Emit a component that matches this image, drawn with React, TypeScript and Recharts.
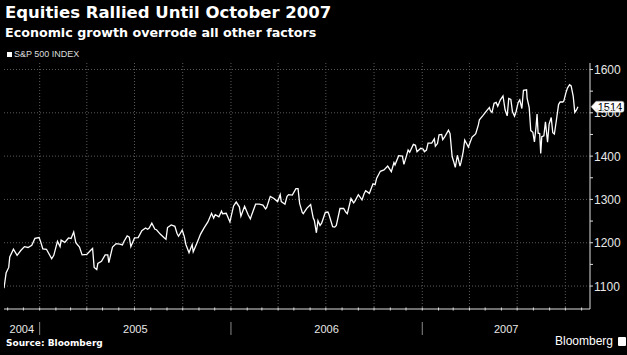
import React from 'react';
import { LineChart, Line, XAxis, YAxis, CartesianGrid, ReferenceLine } from 'recharts';

// S&P 500 closes: weekly closes plus the visible daily extremes
const weekDates = [
  '2004-10-25', '2004-10-29', '2004-11-05', '2004-11-12', '2004-11-19', '2004-11-26', '2004-12-03', '2004-12-10',
  '2004-12-17', '2004-12-23', '2004-12-31', '2005-01-07', '2005-01-14', '2005-01-24', '2005-01-28', '2005-02-04',
  '2005-02-11', '2005-02-18', '2005-02-25', '2005-03-07', '2005-03-11', '2005-03-18', '2005-03-23', '2005-04-01',
  '2005-04-08', '2005-04-15', '2005-04-20', '2005-04-22', '2005-04-29', '2005-05-06', '2005-05-13', '2005-05-20',
  '2005-05-27', '2005-06-03', '2005-06-10', '2005-06-17', '2005-06-24', '2005-07-01', '2005-07-08', '2005-07-15',
  '2005-07-22', '2005-07-29', '2005-08-03', '2005-08-12', '2005-08-19', '2005-08-26', '2005-09-02', '2005-09-09',
  '2005-09-16', '2005-09-23', '2005-09-30', '2005-10-07', '2005-10-13', '2005-10-21', '2005-10-28', '2005-11-04',
  '2005-11-11', '2005-11-18', '2005-11-25', '2005-12-02', '2005-12-09', '2005-12-16', '2005-12-23', '2005-12-30',
  '2006-01-06', '2006-01-11', '2006-01-20', '2006-01-27', '2006-02-03', '2006-02-10', '2006-02-17', '2006-02-24',
  '2006-03-03', '2006-03-10', '2006-03-17', '2006-03-24', '2006-03-31', '2006-04-07', '2006-04-14', '2006-04-21',
  '2006-04-28', '2006-05-05', '2006-05-12', '2006-05-19', '2006-05-26', '2006-06-02', '2006-06-09', '2006-06-13',
  '2006-06-16', '2006-06-23', '2006-06-30', '2006-07-07', '2006-07-14', '2006-07-21', '2006-07-28', '2006-08-04',
  '2006-08-11', '2006-08-18', '2006-08-25', '2006-09-01', '2006-09-08', '2006-09-15', '2006-09-22', '2006-09-29',
  '2006-10-06', '2006-10-13', '2006-10-20', '2006-10-27', '2006-11-03', '2006-11-10', '2006-11-17', '2006-11-24',
  '2006-12-01', '2006-12-08', '2006-12-15', '2006-12-22', '2006-12-29', '2007-01-05', '2007-01-12', '2007-01-19',
  '2007-01-26', '2007-02-02', '2007-02-09', '2007-02-20', '2007-02-23', '2007-02-27', '2007-03-02', '2007-03-05',
  '2007-03-09', '2007-03-14', '2007-03-16', '2007-03-23', '2007-03-30', '2007-04-06', '2007-04-13', '2007-04-20',
  '2007-04-27', '2007-05-04', '2007-05-11', '2007-05-18', '2007-05-25', '2007-06-04', '2007-06-08', '2007-06-12',
  '2007-06-15', '2007-06-22', '2007-06-29', '2007-07-06', '2007-07-13', '2007-07-19', '2007-07-20', '2007-07-27',
  '2007-08-03', '2007-08-08', '2007-08-10', '2007-08-15', '2007-08-17', '2007-08-24', '2007-08-28', '2007-08-31',
  '2007-09-07', '2007-09-10', '2007-09-14', '2007-09-21', '2007-09-28', '2007-10-05', '2007-10-09', '2007-10-12',
  '2007-10-19', '2007-10-22', '2007-10-25',
];

const weekCloses = [
  1095, 1130, 1167, 1185, 1171, 1182, 1191, 1189,
  1194, 1210, 1212, 1186, 1185, 1163, 1171, 1203,
  1206, 1201, 1211, 1225, 1200, 1190, 1172, 1173,
  1182, 1143, 1138, 1152, 1157, 1172, 1154, 1190,
  1198, 1197, 1201, 1216, 1191, 1211, 1212, 1228,
  1234, 1234, 1245, 1230, 1220, 1212, 1235, 1241,
  1238, 1215, 1229, 1196, 1177, 1179, 1199, 1220,
  1235, 1248, 1268, 1265, 1260, 1267, 1268, 1248,
  1285, 1294, 1261, 1284, 1264, 1266, 1289, 1289,
  1287, 1281, 1307, 1302, 1295, 1295, 1289, 1311,
  1310, 1325, 1291, 1267, 1280, 1288, 1252, 1223,
  1251, 1245, 1270, 1265, 1237, 1240, 1279, 1279,
  1267, 1302, 1295, 1311, 1299, 1320, 1314, 1336,
  1349, 1365, 1368, 1377, 1364, 1380, 1401, 1400,
  1397, 1409, 1427, 1410, 1418, 1410, 1430, 1430,
  1423, 1449, 1438, 1460, 1452, 1399, 1387, 1374,
  1402, 1377, 1386, 1437, 1421, 1444, 1452, 1484,
  1494, 1505, 1505, 1522, 1515, 1539, 1507, 1493,
  1533, 1503, 1503, 1530, 1552, 1553, 1534, 1459,
  1433, 1497, 1453, 1406, 1445, 1479, 1432, 1474,
  1454, 1451, 1484, 1525, 1527, 1557, 1565, 1562,
  1501, 1506, 1514,
];

// mid-week readings that give the line its jagged look
const midDates = [
  '2004-11-03', '2005-01-03', '2005-02-09', '2005-03-02', '2005-04-12', '2005-05-11', '2005-06-08', '2005-06-21',
  '2005-07-26', '2005-08-09', '2005-08-30', '2005-09-20', '2005-10-04', '2005-10-19', '2005-11-29', '2005-12-14',
  '2006-01-17', '2006-02-07', '2006-03-08', '2006-04-05', '2006-04-18', '2006-05-09', '2006-05-17', '2006-06-07',
  '2006-06-20', '2006-07-05', '2006-07-18', '2006-08-08', '2006-08-23', '2006-09-12', '2006-10-03', '2006-11-08',
  '2006-11-27', '2006-12-05', '2006-12-19', '2007-01-03', '2007-01-09', '2007-01-24', '2007-01-30', '2007-02-07',
  '2007-02-13', '2007-03-20', '2007-03-27', '2007-04-10', '2007-04-18', '2007-05-09', '2007-05-14', '2007-05-22',
  '2007-05-30', '2007-06-19', '2007-06-26', '2007-07-03', '2007-07-10', '2007-07-24', '2007-07-31', '2007-08-06',
  '2007-08-13', '2007-08-21', '2007-09-04', '2007-09-18', '2007-09-26', '2007-10-02', '2007-10-16',
];

const midCloses = [
  1143, 1202, 1191, 1210, 1187, 1172, 1195, 1213,
  1231, 1231, 1208, 1222, 1214, 1196, 1257, 1273,
  1283, 1255, 1278, 1311, 1307, 1325, 1270, 1257,
  1240, 1271, 1236, 1271, 1292, 1313, 1334, 1385,
  1381, 1414, 1425, 1416, 1414, 1440, 1429, 1450,
  1445, 1410, 1428, 1448, 1472, 1512, 1501, 1524,
  1530, 1531, 1492, 1524, 1510, 1512, 1455, 1467,
  1452, 1447, 1489, 1519, 1525, 1546, 1538,
];

const years = ['2004', '2005', '2006', '2007'];
const priceTicks = [1100, 1150, 1200, 1250, 1300, 1350, 1400, 1450, 1500, 1550, 1600];
const gridPrices = [1100, 1200, 1300, 1400, 1500, 1600];

const day = (s: string) => {
  const [y, m, d] = s.split('-').map(Number);
  return Date.UTC(y, m - 1, d);
};

const data = [
  ...weekDates.map((d, i) => ({ t: day(d), close: weekCloses[i] })),
  ...midDates.map((d, i) => ({ t: day(d), close: midCloses[i] })),
].sort((a, b) => a.t - b.t);
const last = weekCloses[weekCloses.length - 1];

const xStart = day('2004-10-25');
const xEnd = day('2007-11-17');

// month starts for the axis marks, quarter starts for the grid
const months: number[] = [];
for (let y = 2004; y <= 2007; y++) {
  for (let m = 0; m < 12; m++) {
    const t = Date.UTC(y, m, 1);
    if (t > xStart && t < xEnd) months.push(t);
  }
}
const quarters = months.filter((t) => new Date(t).getUTCMonth() % 3 === 0);
const yearStarts = months.filter((t) => new Date(t).getUTCMonth() === 0);

// year label sits in the middle of its span
const bounds = [xStart, ...yearStarts, xEnd];
const yearMids = years.map((_, i) => (bounds[i] + bounds[i + 1]) / 2);
const labelAt = new Map(yearMids.map((t, i) => [t, years[i]]));

const XTick = (props: any) => {
  const { x, y, payload } = props;
  const v = payload.value;
  if (labelAt.has(v)) {
    return (
      <text x={x} y={y + 24} textAnchor="middle" fill="#e8e8e8" fontSize={11} fontFamily="Liberation Sans, Arial, sans-serif">
        {labelAt.get(v)}
      </text>
    );
  }
  const isYear = yearStarts.includes(v);
  return (
    <g>
      <line x1={x} x2={x} y1={y - 1.5} y2={y + 1.5} stroke="#ddd" strokeWidth={1} />
      {isYear && <line x1={x} x2={x} y1={y + 13} y2={y + 26} stroke="#888" strokeWidth={1} />}
    </g>
  );
};

const YTick = (props: any) => {
  const { x, y, payload } = props;
  const major = payload.value % 100 === 0;
  return (
    <g>
      <line x1={x} x2={x + 3} y1={y} y2={y} stroke="#ddd" strokeWidth={1} />
      {major && (
        <text x={x + 4} y={y + 4.5} fill="#e8e8e8" fontSize={12} fontFamily="Liberation Sans, Arial, sans-serif">
          {payload.value}
        </text>
      )}
    </g>
  );
};

const Badge = (props: any) => {
  const { viewBox } = props;
  if (!viewBox) return null;
  const x0 = viewBox.x + viewBox.width + 1;
  const cy = viewBox.y;
  const h = 11;
  return (
    <g>
      <path
        d={`M${x0},${cy} L${x0 + 5},${cy - h / 2} L${x0 + 31},${cy - h / 2} Q${x0 + 33},${cy - h / 2} ${x0 + 33},${cy - h / 2 + 2} L${x0 + 33},${cy + h / 2 - 2} Q${x0 + 33},${cy + h / 2} ${x0 + 31},${cy + h / 2} L${x0 + 5},${cy + h / 2} Z`}
        fill="#fff"
        stroke="#999"
        strokeWidth={0.5}
      />
      <text x={x0 + 19} y={cy + 4} textAnchor="middle" fill="#000" fontSize={11} fontFamily="Liberation Sans, Arial, sans-serif">
        {last}
      </text>
    </g>
  );
};

const App: React.FC = () => {
  return (
    <div style={{ position: 'relative', width: 627, height: 355, background: '#000', overflow: 'hidden' }}>
      <style>{`body{margin:0;background:#000}`}</style>
      <div style={{ position: 'absolute', left: 5, top: 3, color: '#fff', fontFamily: 'DejaVu Sans, sans-serif', fontWeight: 'bold', fontSize: 16.5, lineHeight: '20px', whiteSpace: 'nowrap' }}>
        Equities Rallied Until October 2007
      </div>
      <div style={{ position: 'absolute', left: 5, top: 25, color: '#fff', fontFamily: 'DejaVu Sans, sans-serif', fontWeight: 'bold', fontSize: 12.7, lineHeight: '16px', whiteSpace: 'nowrap' }}>
        Economic growth overrode all other factors
      </div>
      <div style={{ position: 'absolute', left: 7, top: 49, display: 'flex', alignItems: 'center', color: '#ddd', fontFamily: 'Liberation Sans, Arial, sans-serif', fontSize: 9, lineHeight: '10px', whiteSpace: 'nowrap' }}>
        <span style={{ display: 'inline-block', width: 5, height: 5, background: '#fff', marginRight: 2 }} />
        S&amp;P 500 INDEX
      </div>
      <div style={{ position: 'absolute', top: 0, left: 0 }}>
        <LineChart width={627} height={355} data={data} margin={{ top: 63, right: 0, left: 4, bottom: 16 }}>
          <CartesianGrid
            stroke="#5a5a5a"
            strokeDasharray="1 2"
            horizontalValues={gridPrices}
            verticalValues={quarters}
          />
          <XAxis
            dataKey="t"
            type="number"
            domain={[xStart, xEnd]}
            allowDataOverflow
            ticks={[...months, ...yearMids].sort((a, b) => a - b)}
            interval={0}
            tick={<XTick />}
            tickLine={false}
            tickSize={0}
            tickMargin={0}
            height={30}
            axisLine={{ stroke: '#ddd' }}
          />
          <YAxis
            orientation="right"
            domain={[1047, 1615]}
            allowDataOverflow
            ticks={priceTicks}
            interval={0}
            tick={<YTick />}
            tickLine={false}
            tickSize={0}
            tickMargin={0}
            width={37}
            axisLine={{ stroke: '#ddd' }}
          />
          <Line
            type="linear"
            dataKey="close"
            stroke="#fff"
            strokeWidth={1.3}
            dot={false}
            isAnimationActive={false}
          />
          <ReferenceLine y={last} stroke="none" label={<Badge />} ifOverflow="visible" />
        </LineChart>
      </div>
      <div style={{ position: 'absolute', left: 6, top: 338, color: '#fff', fontFamily: 'DejaVu Sans, sans-serif', fontWeight: 'bold', fontSize: 9, whiteSpace: 'nowrap' }}>
        Source: Bloomberg
      </div>
      <div style={{ position: 'absolute', left: 555, top: 334, color: '#fff', fontFamily: 'Liberation Sans, Arial, sans-serif', fontSize: 12, whiteSpace: 'nowrap', display: 'flex', alignItems: 'center' }}>
        Bloomberg
        <span style={{ display: 'inline-block', width: 8, height: 9, background: '#fff', marginLeft: 5, borderRadius: 1 }} />
      </div>
    </div>
  );
};

export default App;
